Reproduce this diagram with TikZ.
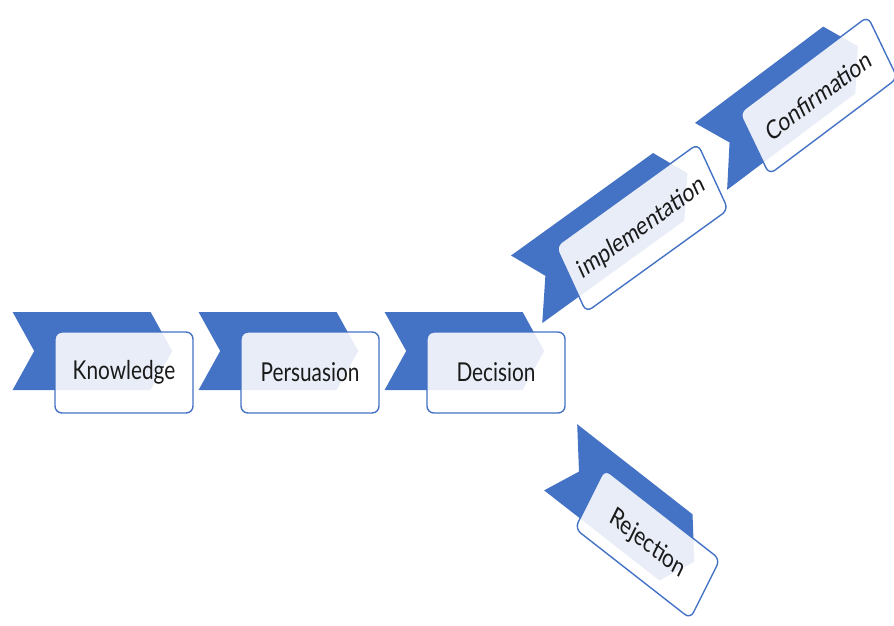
\documentclass[tikz,border=0pt]{standalone}
\usepackage{fontspec}
\setmainfont{Lato}
\usepackage{tikz}
\usetikzlibrary{positioning}
\definecolor{accent}{HTML}{4472C4}
\definecolor{ink}{HTML}{1A1A1A}
\tikzset{
  chevron/.style={fill=accent,draw=none},
  card/.style={draw=accent,line width=1.4pt,fill=white,fill opacity=0.88,text opacity=1,rounded corners=7pt,inner sep=0pt,text=ink,font=\fontsize{26}{30}\selectfont,transform shape},
}
\newcommand{\stagelist}{knowledge/124/372.5/0/172.5/81/Knowledge, persuasion/310/372.5/0/172.5/81/Persuasion, decision/496/372.5/0/172.5/81/Decision, implementation/642/228/30/205/76/implementation, confirmation/818.5/95.5/31/187/72/Confirmation, rejection/647.5/544/-32/170/70/Rejection}

\begin{document}
\begin{tikzpicture}[x=1pt,y=-1pt]
  \useasboundingbox (0,0) rectangle (894,626);
  \foreach \n/\cx/\cy/\a/\w/\h/\t in \stagelist {
    \begin{scope}[shift={(\cx,\cy)},xscale=0.8,rotate=\a]
      \fill[chevron] (-\w/2-53,-\h/2-20) -- ++(\w,0) -- ++(27,39) -- ++(-27,39) -- ++(-\w,0) -- ++(27,-39) -- cycle;
    \end{scope}
  }
  \foreach \n/\cx/\cy/\a/\w/\h/\t in \stagelist {
    \begin{scope}[shift={(\cx,\cy)},xscale=0.8,rotate=\a]
      \node[card,minimum width=\w pt,minimum height=\h pt] (\n) at (0,0) {\t};
    \end{scope}
  }
\end{tikzpicture}
\end{document}
